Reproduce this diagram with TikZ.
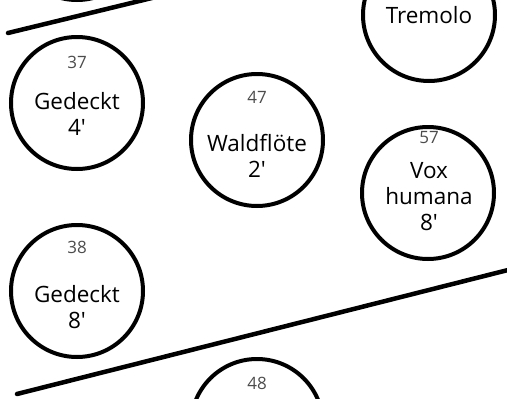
\documentclass[tikz,border=0pt]{standalone}
\usepackage{fontspec}
\setmainfont{Open Sans}[Ligatures=TeXOff]
\begin{document}
\begin{tikzpicture}[x=1pt,y=-1pt,
  pipe/.style={circle,draw=black,line width=4pt,minimum size=132pt,inner sep=0pt},
  num/.style={font=\fontsize{17}{17}\selectfont,text=black!70},
  lbl/.style={font=\fontsize{22.5}{26}\selectfont,align=center,text=black},
  divider/.style={line width=4.5pt,line cap=round}]
\useasboundingbox (0,0) rectangle (507,399);
\begin{scope}
\clip (0,0) rectangle (507,399);
% circles
\node[pipe] (top) at (77,-66) {};
\node[pipe] (trem) at (429,15) {};
\node[pipe] (g4) at (77,103) {};
\node[pipe] (wald) at (257,140) {};
\node[pipe] (vox) at (428,193) {};
\node[pipe] (g8) at (77,291) {};
\node[pipe] (c48) at (257,425) {};
% dividers
\coordinate (d1a) at (8,33);
\coordinate (d1b) at (160,-4);
\coordinate (d2a) at (17,394);
\coordinate (d2b) at (512,269);
\draw[divider] (d1a) -- (d1b);
\draw[divider] (d2a) -- (d2b);
% texts
\node[lbl] (tt) at (trem.center) {Tremolo};
\node[num] (n37) at (77,62) {37};
\node[lbl] (t37) at (77,114) {Gedeckt\\4'};
\node[num] (n47) at (257,97) {47};
\node[lbl] (t47) at (257,156) {Waldflöte\\2'};
\node[num] (n57) at (429,138) {57};
\node[lbl] (t57) at (429,197) {Vox\\humana\\8'};
\node[num] (n38) at (77,247) {38};
\node[lbl] (t38) at (77,307) {Gedeckt\\8'};
\node[num] (n48) at (257,383) {48};
\end{scope}
\end{tikzpicture}
\end{document}
